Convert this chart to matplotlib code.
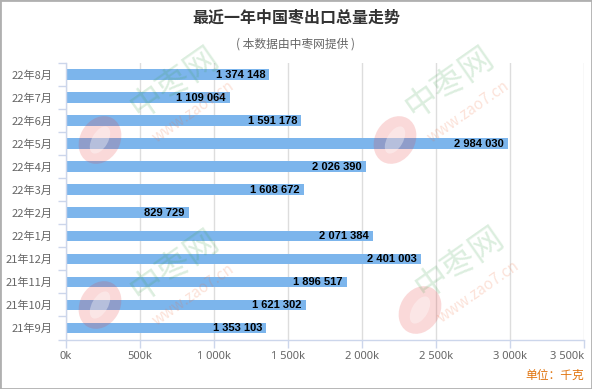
import matplotlib
matplotlib.use("Agg")
import matplotlib.pyplot as plt
from matplotlib.patches import Rectangle, Ellipse
import numpy as np

plt.rcParams['font.family'] = ['Noto Sans CJK SC', 'DejaVu Sans']

months = ["22年8月", "22年7月", "22年6月", "22年5月", "22年4月", "22年3月",
          "22年2月", "22年1月", "21年12月", "21年11月", "21年10月", "21年9月"]
exports = [1374148, 1109064, 1591178, 2984030, 2026390, 1608672,
           829729, 2071384, 2401003, 1896517, 1621302, 1353103]
ticks = [0, 500000, 1000000, 1500000, 2000000, 2500000, 3000000, 3500000]
tick_labels = ["0k", "500k", "1 000k", "1 500k", "2 000k", "2 500k", "3 000k", "3 500k"]

title = "最近一年中国枣出口总量走势"
subtitle = "( 本数据由中枣网提供 )"
unit = "单位：千克"

W, H = 592, 389
fig = plt.figure(figsize=(W / 100, H / 100), dpi=100)
ax = fig.add_axes([66 / W, 1 - 339.5 / H, (584 - 66) / W, (339.5 - 63.3) / H])
ax.patch.set_alpha(0)

def fmt(v):
    return f"{v:,}".replace(",", " ")

y = np.arange(len(months))
ax.barh(y, exports, height=0.47, color="#7cb5ec", linewidth=0, zorder=2)
for yi, v in zip(y, exports):
    ax.text(v - 28000, yi, fmt(v), ha="right", va="center", fontsize=8,
            fontweight="bold", color="black", family="Liberation Sans", zorder=3)

ax.set_ylim(len(months) - 0.5, -0.5)
ax.set_yticks(y)
ax.set_yticklabels(months)
ax.set_yticks(np.arange(-0.5, len(months), 1), minor=True)
ax.tick_params(axis="y", which="major", length=0, pad=10, labelsize=8, labelcolor="#666666")
ax.tick_params(axis="y", which="minor", length=6, width=1, color="#ccd6eb")

ax.set_xlim(0, 3500000)
ax.set_xticks(ticks)
ax.set_xticklabels(tick_labels, family="Noto Sans")
ax.tick_params(axis="x", length=6, width=1, color="#ccd6eb", pad=2,
               labelsize=8, labelcolor="#666666")
ax.get_xticklabels()[-1].set_horizontalalignment("right")
ax.grid(axis="x", color="#dddddd", linewidth=1, zorder=0)
ax.set_axisbelow(True)

for s in ["top", "right"]:
    ax.spines[s].set_visible(False)
for s in ["left", "bottom"]:
    ax.spines[s].set_color("#ccd6eb")
    ax.spines[s].set_linewidth(1)

fig.text(0.5, 1 - 18 / H, title, ha="center", va="center", fontsize=11.5,
         fontweight="bold", color="#333333")
fig.text(0.5, 1 - 44 / H, subtitle, ha="center", va="center", fontsize=8.5,
         color="#666666")
fig.text(584 / W, 1 - 375 / H, unit, ha="right", va="center", fontsize=8.5,
         color="#e0730d")

# watermarks
marks = [(175, 82, 100, 140), (450, 82, 395, 140), (175, 265, 100, 305), (460, 262, 420, 310)]
for mx, my, lx, ly in marks:
    fig.text(mx / W, 1 - my / H, "中枣网", ha="center", va="center", fontsize=24,
             color="#3aa04a", alpha=0.18, rotation=35, zorder=10)
    fig.text((mx + 18) / W, 1 - (my + 30) / H, "www.zao7.cn", ha="center", va="center",
             fontsize=11, color="#f07040", alpha=0.2, rotation=35, zorder=10)
    c = (lx / 100, (H - ly) / 100)
    fig.patches.append(Ellipse(c, 0.4, 0.5, angle=-30, transform=fig.dpi_scale_trans,
                               facecolor="#e83030", alpha=0.18, edgecolor="none", zorder=10))
    fig.patches.append(Ellipse(c, 0.16, 0.3, angle=-30, transform=fig.dpi_scale_trans,
                               facecolor="white", alpha=0.35, edgecolor="none", zorder=11))

fig.patches.append(Rectangle((0, 0), 1, 1, transform=fig.transFigure, fill=False,
                             edgecolor="#b0b0b0", linewidth=2, zorder=20))

fig.savefig("out.png", dpi=100)
